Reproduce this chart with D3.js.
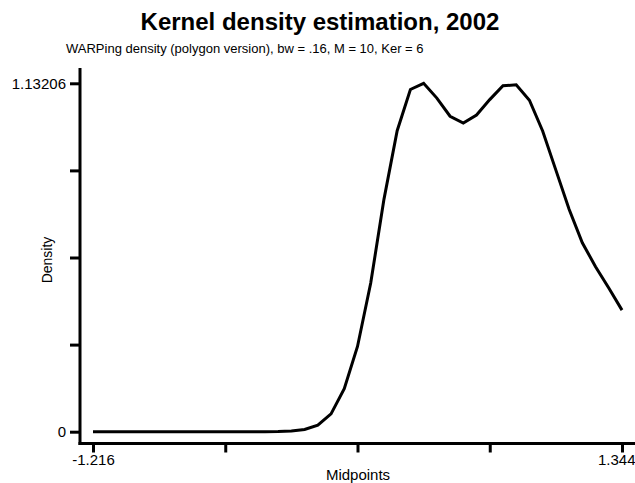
<!DOCTYPE html>
<html>
<head>
<meta charset="utf-8">
<script src="https://cdn.jsdelivr.net/npm/d3@7"></script>
<style>
  html, body { margin: 0; padding: 0; background: #fff; }
  svg { display: block; font-family: "Liberation Sans", Arial, sans-serif; }
</style>
</head>
<body>
<svg id="chart" width="635" height="483"></svg>
<script>
const titleText = "Kernel density estimation, 2002";
const subtitleText = "WARPing density (polygon version), bw = .16, M = 10, Ker = 6";
const xLabel = "Midpoints";
const yLabel = "Density";

const midpoints = [-1.216, -1.152, -1.088, -1.024, -0.960, -0.896, -0.832, -0.768, -0.704, -0.640,
  -0.576, -0.512, -0.448, -0.384, -0.320, -0.256, -0.192, -0.128, -0.064, 0.000,
  0.064, 0.128, 0.192, 0.256, 0.320, 0.384, 0.448, 0.512, 0.576, 0.640,
  0.704, 0.768, 0.832, 0.896, 0.960, 1.024, 1.088, 1.152, 1.216, 1.280, 1.344];
const density = [0, 0, 0, 0, 0, 0, 0, 0, 0, 0,
  0, 0, 0, 0, 0.0005, 0.002, 0.007, 0.021, 0.058, 0.14,
  0.277, 0.483, 0.755, 0.978, 1.112, 1.13206, 1.084, 1.025, 1.003, 1.029,
  1.079, 1.124, 1.127, 1.077, 0.977, 0.850, 0.723, 0.614, 0.536, 0.467, 0.395];

const xTicks = [-1.216, -0.576, 0.064, 0.704, 1.344];
const xTickLabels = ["-1.216", "", "", "", "1.344"];
const yTicks = [0, 0.283015, 0.56603, 0.849045, 1.13206];
const yTickLabels = ["0", "", "", "", "1.13206"];

const svg = d3.select("#chart");
const x = d3.scaleLinear().domain([-1.216, 1.344]).range([93, 622]);
const y = d3.scaleLinear().domain([0, 1.13206]).range([431.7, 83.3]);

const axisX = 80, axisY = 443.5;

// Title
svg.append("text").attr("x", 320).attr("y", 30).attr("text-anchor", "middle")
  .attr("font-size", 24).attr("font-weight", "bold").text(titleText);
svg.append("text").attr("x", 66).attr("y", 53).attr("text-anchor", "start")
  .attr("font-size", 13).text(subtitleText);

// Axes lines
svg.append("line").attr("x1", axisX).attr("x2", axisX).attr("y1", 68).attr("y2", axisY + 1.5)
  .attr("stroke", "#000").attr("stroke-width", 3);
svg.append("line").attr("x1", axisX - 1.5).attr("x2", 635).attr("y1", axisY).attr("y2", axisY)
  .attr("stroke", "#000").attr("stroke-width", 3);

// Y axis ticks via d3 axis
const yAxis = d3.axisLeft(y).tickValues(yTicks).tickSize(10).tickPadding(4)
  .tickFormat((d, i) => yTickLabels[i]);
const gy = svg.append("g").attr("transform", `translate(${axisX},0)`).call(yAxis);
gy.select(".domain").remove();
gy.selectAll(".tick line").attr("stroke", "#000").attr("stroke-width", 3);
gy.selectAll(".tick text").attr("font-size", 15).attr("font-family", "Liberation Sans, Arial, sans-serif").attr("fill", "#000");

// X axis ticks
const xAxis = d3.axisBottom(x).tickValues(xTicks).tickSize(9).tickPadding(2)
  .tickFormat((d, i) => xTickLabels[i]);
const gx = svg.append("g").attr("transform", `translate(0,${axisY})`).call(xAxis);
gx.select(".domain").remove();
gx.selectAll(".tick line").attr("stroke", "#000").attr("stroke-width", 3);
gx.selectAll(".tick text").attr("font-size", 15).attr("font-family", "Liberation Sans, Arial, sans-serif").attr("fill", "#000");
// keep the last label inside the picture
gx.selectAll(".tick text").filter((d, i) => i === xTicks.length - 1)
  .attr("text-anchor", "end").attr("x", 635 - x(xTicks[xTicks.length - 1]));

// Axis titles
svg.append("text").attr("x", 358).attr("y", 480).attr("text-anchor", "middle")
  .attr("font-size", 15).text(xLabel);
svg.append("text").attr("transform", "translate(52,260) rotate(-90)").attr("text-anchor", "middle")
  .attr("font-size", 14).text(yLabel);

// Density curve
const line = d3.line().x((d, i) => x(midpoints[i])).y(d => y(d));
svg.append("path").datum(density).attr("d", line)
  .attr("fill", "none").attr("stroke", "#000").attr("stroke-width", 3).attr("stroke-linejoin", "miter");
</script>
</body>
</html>
